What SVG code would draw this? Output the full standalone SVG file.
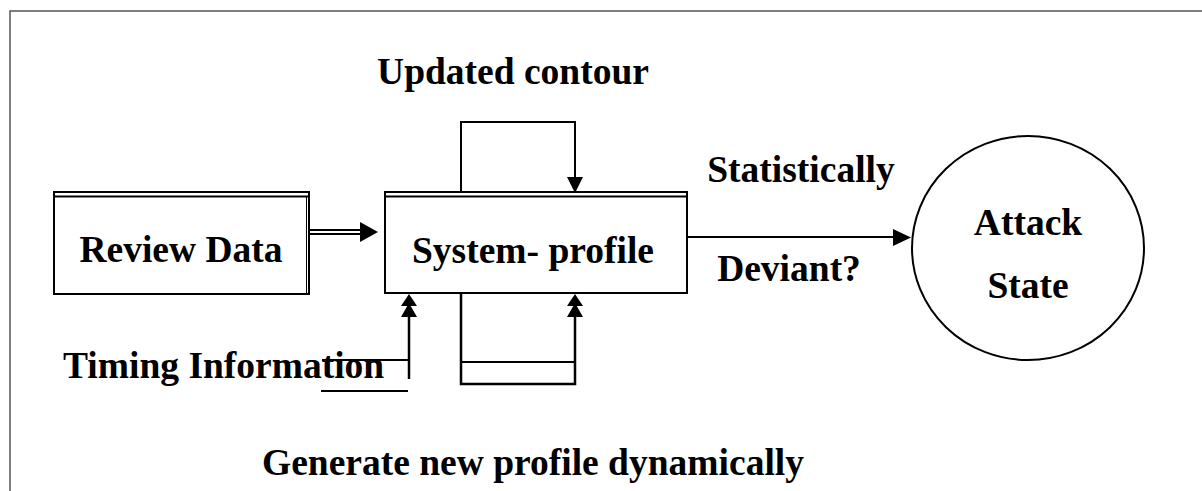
<svg xmlns="http://www.w3.org/2000/svg" width="1202" height="491" viewBox="0 0 1202 491">
<style>
.t{font-family:"Liberation Serif","Times New Roman",serif;font-weight:bold;font-size:37.5px;fill:#000}
.ln{stroke:#000;stroke-width:2;fill:none}
.th{stroke:#000;stroke-width:2.5;fill:none}
.ah{fill:#000}
</style>
<rect width="1202" height="491" fill="#fff"/>
<g id="frame">
<polyline points="10,491 10,11 1202,11" fill="none" stroke="#555" stroke-width="1.5"/>
</g>
<g id="review-data">
<rect x="54" y="192" width="255" height="102" class="ln"/>
<line x1="54" y1="196.5" x2="309" y2="196.5" class="ln"/>
<line x1="306.5" y1="196" x2="306.5" y2="294" stroke="#000" stroke-width="1"/>
<text x="181" y="262" class="t" text-anchor="middle">Review Data</text>
</g>
<g id="system-profile">
<rect x="385" y="192" width="302" height="101" class="ln"/>
<line x1="385" y1="196.5" x2="687" y2="196.5" class="ln"/>
<text x="533" y="263" class="t" text-anchor="middle">System- profile</text>
</g>
<g id="attack-state">
<ellipse cx="1028" cy="248" rx="116" ry="112" class="ln"/>
<text x="1028" y="235" class="t" text-anchor="middle">Attack</text>
<text x="1028" y="298" class="t" text-anchor="middle">State</text>
</g>
<g id="connectors">
<line x1="309" y1="230" x2="363" y2="230" class="ln"/>
<line x1="309" y1="234" x2="363" y2="234" class="ln"/>
<polygon points="360,222 378,232 360,242" class="ah"/>
<polyline points="461,192 461,122 575,122 575,180" class="ln"/>
<polygon points="567,177 583,177 575,193" class="ah"/>
<polyline points="461,293 461,384 575,384 575,310" class="th"/>
<line x1="461" y1="362" x2="575" y2="362" class="ln"/>
<polygon points="575,294 583,306 567,306" class="ah"/>
<polygon points="575,303 583,317 567,317" class="ah"/>
<line x1="409" y1="379" x2="409" y2="310" class="th"/>
<line x1="322" y1="360" x2="409" y2="360" class="ln"/>
<line x1="321" y1="391" x2="408" y2="391" class="ln"/>
<polygon points="409,294 417,306 401,306" class="ah"/>
<polygon points="409,303 417,317 401,317" class="ah"/>
<line x1="687" y1="237" x2="895" y2="237" class="ln"/>
<polygon points="893,229 911,237.5 893,246" class="ah"/>
</g>
<g id="labels">
<text x="513" y="84" class="t" text-anchor="middle">Updated contour</text>
<text x="801" y="182" class="t" text-anchor="middle">Statistically</text>
<text x="789" y="281" class="t" text-anchor="middle">Deviant?</text>
<text x="63" y="378" class="t">Timing Information</text>
<text x="533" y="475" class="t" text-anchor="middle">Generate new profile dynamically</text>
</g>
</svg>
